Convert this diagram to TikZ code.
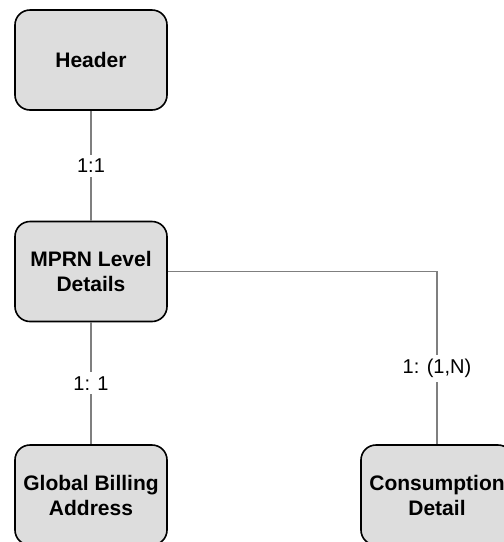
\documentclass[tikz,border=0pt]{standalone}
\usepackage{fontspec}
\setmainfont{Liberation Sans}
\definecolor{boxgray}{HTML}{DDDDDD}
\definecolor{linegray}{HTML}{7F7F7F}
\newcommand{\boxLeftX}{91}
\newcommand{\boxRightX}{437}

\begin{document}
\begin{tikzpicture}[x=1pt,y=-1pt,
    entity/.style={draw=black,line width=1.6pt,fill=boxgray,rounded corners=15pt,
      minimum width=152pt,minimum height=100pt,align=center,
      font=\fontsize{21}{25}\selectfont\bfseries},
    card/.style={fill=white,inner sep=4pt,font=\fontsize{20}{24}\selectfont},
    link/.style={draw=linegray,line width=1.2pt}]
    \useasboundingbox (0,0) rectangle (504,542);
    \clip (0,0) rectangle (504,542);
    \node[entity] (header) at (\boxLeftX,60) {Header};
    \node[entity] (mprn) at (\boxLeftX,271.5) {MPRN Level\\Details};
    \node[entity] (billing) at (\boxLeftX,495) {Global Billing\\Address};
    \node[entity] (consumption) at (\boxRightX,495) {Consumption\\Detail};
    \draw[link] (header) -- node[card] (header_card) {1:1} (mprn);
    \draw[link] (mprn) -- node[card] (billing_card) {1: 1} (billing);
    \draw[link] (mprn.east) -| node[card,pos=0.78] (consumption_card) {1: (1,N)} (consumption);
  \end{tikzpicture}
\end{document}
